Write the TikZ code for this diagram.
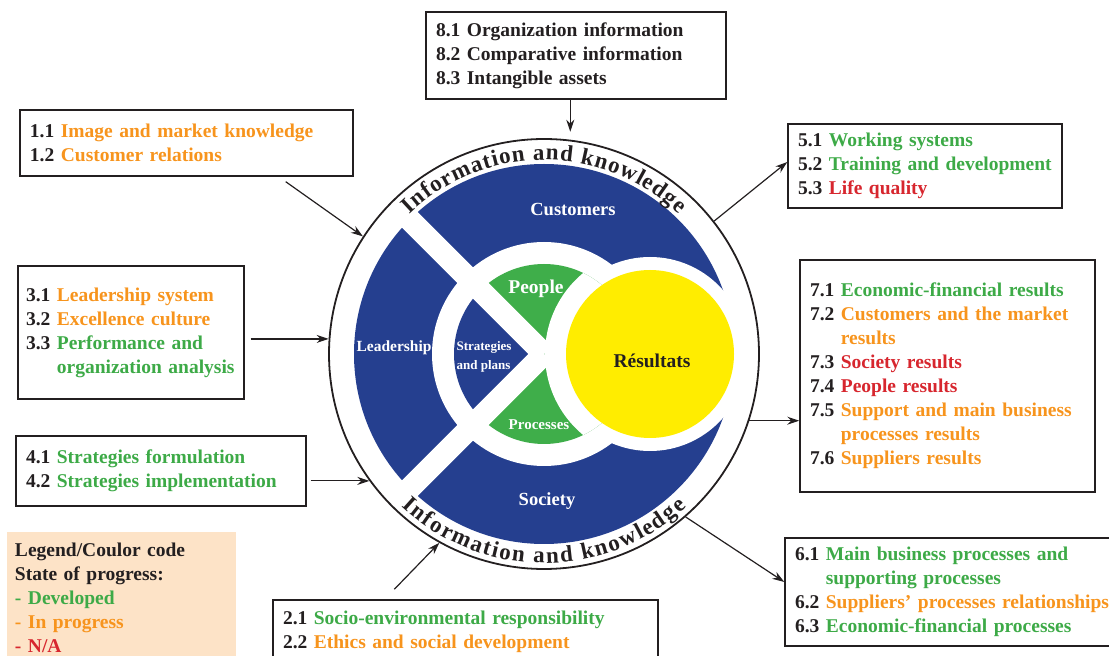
\documentclass[tikz,border=0pt]{standalone}
\usepackage{fontspec}
\setmainfont{Liberation Serif}
\usetikzlibrary{arrows.meta,decorations.text}

\definecolor{inkdark}{HTML}{231F20}
\definecolor{wheelblue}{HTML}{253F8F}
\definecolor{wheelgreen}{HTML}{3FAE4A}
\definecolor{wheelyellow}{HTML}{FFED00}
\definecolor{devgreen}{HTML}{3DAA47}
\definecolor{progorange}{HTML}{F7941D}
\definecolor{nared}{HTML}{D7262E}
\definecolor{legendpeach}{HTML}{FDE3C7}

\newcommand{\devd}[1]{\textcolor{devgreen}{#1}}
\newcommand{\prog}[1]{\textcolor{progorange}{#1}}
\newcommand{\nota}[1]{\textcolor{nared}{#1}}
\newcommand{\crit}[2]{\mbox{#1 #2}}
\newcommand{\cont}[2]{\mbox{\hphantom{#1} #2}}
\newcommand{\infofont}{\fontsize{23}{23}\selectfont\bfseries\color{inkdark}}

\begin{document}
\begin{tikzpicture}[x=1pt, y=1pt,
    critbox/.style={rectangle, draw=inkdark, line width=1.4pt, inner xsep=10pt, inner ysep=0pt,
      align=left, text=inkdark, font=\fontsize{19.5}{24}\selectfont\bfseries},
    wheellabel/.style={text=white, inner sep=0pt, font=\bfseries},
    infoarc/.style={decorate, decoration={text along path, text align={fit to path},
      text={|\infofont|Information and knowledge}}},
    link/.style={->, draw=inkdark, line width=1.2pt},
    >={Stealth[length=12pt, width=8pt]}]
    \useasboundingbox (0,0) rectangle (1109,656);

    % Wheel
    \node[circle, draw=inkdark, line width=1.8pt, minimum size=430pt, inner sep=0pt] (wheel) at (544,302) {};
    \fill[wheelblue] (wheel.center) circle (190);
    \fill[white] (wheel.center) circle (112);
    \fill[white] (650,302) circle (97);
    \begin{scope}
        \clip (wheel.center) circle (90);
        \fill[wheelblue] (wheel.center) -- ++(-100,100) -- ++(0,-200) -- cycle;
        \fill[wheelgreen] (wheel.center) -- ++(-100,100) -- ++(200,0) -- cycle;
        \fill[wheelgreen] (wheel.center) -- ++(-100,-100) -- ++(200,0) -- cycle;
        \fill[white] (650,302) circle (105);
    \end{scope}
    \draw[white, line width=22pt] (wheel.center) -- ++(135:200);
    \draw[white, line width=22pt] (wheel.center) -- ++(225:200);
    \fill[wheelyellow] (650,302) circle (84);

    % Wheel labels
    \node[wheellabel, font=\fontsize{18.5}{20}\selectfont\bfseries] (customers) at (573,447) {Customers};
    \node[wheellabel, font=\fontsize{15.5}{18}\selectfont\bfseries] (leadership) at (394,308) {Leadership};
    \node[wheellabel, align=left, font=\fontsize{13}{19}\selectfont\bfseries] (strategies) at (484,299) {Strategies\\and plans};
    \node[wheellabel, font=\fontsize{19.5}{20}\selectfont\bfseries] (people) at (536,367) {People};
    \node[wheellabel, font=\fontsize{15}{18}\selectfont\bfseries] (processes) at (539,231) {Processes};
    \node[wheellabel, font=\fontsize{18.5}{20}\selectfont\bfseries] (society) at (547,155) {Society};
    \node[inner sep=0pt, text=inkdark, font=\fontsize{19.5}{20}\selectfont\bfseries] (results) at (652,295) {Résultats};

    % Information and knowledge
    \path[infoarc] (wheel.center) ++(134:194) arc[start angle=134, end angle=46, radius=194];
    \path[infoarc] (wheel.center) ++(227:209) arc[start angle=227, end angle=313, radius=209];

    % Criteria 8
    \node[critbox, text width=280pt, minimum height=87pt] (info) at (576,600.5)
        {\crit{8.1}{Organization information}\\\crit{8.2}{Comparative information}\\\crit{8.3}{Intangible assets}};
    % Criteria 1
    \node[critbox, text width=313pt, minimum height=66pt] (clients) at (186.5,513)
        {\crit{1.1}{\prog{Image and market knowledge}}\\\crit{1.2}{\prog{Customer relations}}};
    % Criteria 5
    \node[critbox, text width=254pt, minimum height=84pt] (staff) at (925,490)
        {\crit{5.1}{\devd{Working systems}}\\\crit{5.2}{\devd{Training and development}}\\\crit{5.3}{\nota{Life quality}}};
    % Criteria 3
    \node[critbox, inner xsep=8pt, text width=210pt, minimum height=133pt] (leaders) at (131,323.5)
        {\crit{3.1}{\prog{Leadership system}}\\\crit{3.2}{\prog{Excellence culture}}\\
         \crit{3.3}{\devd{Performance and}}\\\cont{3.3}{\devd{organization analysis}}};
    % Criteria 7
    \node[critbox, text width=275pt, minimum height=232pt] (outcomes) at (947.5,280)
        {\crit{7.1}{\devd{Economic-financial results}}\\\crit{7.2}{\prog{Customers and the market}}\\\cont{7.2}{\prog{results}}\\
         \crit{7.3}{\nota{Society results}}\\\crit{7.4}{\nota{People results}}\\\crit{7.5}{\prog{Support and main business}}\\
         \cont{7.5}{\prog{processes results}}\\\crit{7.6}{\prog{Suppliers results}}};
    % Criteria 4
    \node[critbox, text width=270pt, minimum height=70pt] (plans) at (161,185)
        {\crit{4.1}{\devd{Strategies formulation}}\\\crit{4.2}{\devd{Strategies implementation}}};
    % Criteria 6
    \node[critbox, text width=322pt, minimum height=108pt] (procs) at (956,64)
        {\crit{6.1}{\devd{Main business processes and}}\\\cont{6.1}{\devd{supporting processes}}\\
         \crit{6.2}{\prog{Suppliers' processes relationships}}\\\crit{6.3}{\devd{Economic-financial processes}}};
    % Criteria 2
    \node[critbox, text width=365pt, minimum height=64pt] (social) at (465.5,24)
        {\crit{2.1}{\devd{Socio-environmental responsibility}}\\\crit{2.2}{\prog{Ethics and social development}}};

    % Legend
    \node[fill=legendpeach, inner xsep=8pt, inner ysep=0pt, text width=213pt, minimum height=132pt, align=left,
        text=inkdark, font=\fontsize{19.5}{24}\selectfont\bfseries] (legend) at (121.5,58)
        {Legend/Coulor code\\State of progress:\\\devd{- Developed}\\\prog{- In progress}\\\nota{- N/A}};

    % Arrows
    \draw[link, shorten >=8pt] (wheel.83 |- info.south) -- (wheel.83);
    \draw[link] ([xshift=-68pt, yshift=-5pt]clients.south east) -- (wheel.147);
    \draw[link] (wheel.38) -- ([yshift=4pt]staff.west);
    \draw[link] ([xshift=6pt]leaders.east |- wheel.176) -- (wheel.176);
    \draw[link] (wheel.-18) -- (wheel.-18 -| outcomes.west);
    \draw[link] ([xshift=4pt]plans.east |- wheel.216) -- (wheel.216);
    \draw[link] (wheel.-49) -- ([yshift=10pt]procs.west);
    \draw[link] ([xshift=122pt, yshift=10pt]social.north west) -- (wheel.241);
\end{tikzpicture}
\end{document}
